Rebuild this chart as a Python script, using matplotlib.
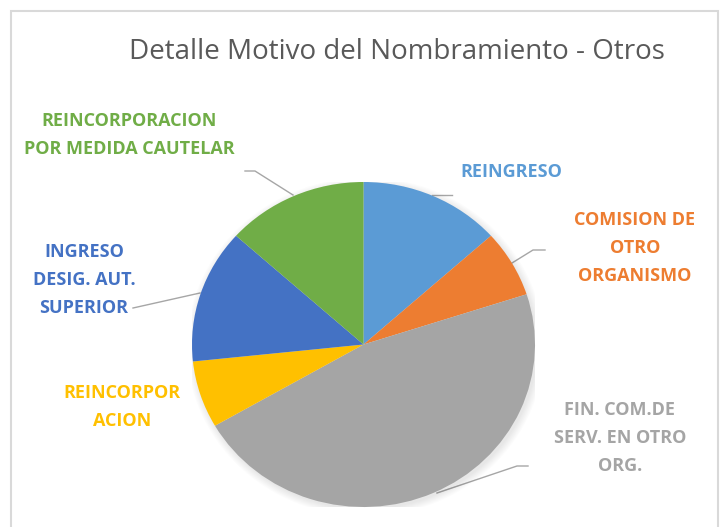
import matplotlib.pyplot as plt
from matplotlib.patches import Rectangle, Ellipse

# ============================================================
# DATA
# ============================================================

categories = [
    "REINGRESO",
    "COMISION DE\nOTRO\nORGANISMO",
    "FIN. COM.DE\nSERV. EN OTRO\nORG.",
    "REINCORPOR\nACION",
    "INGRESO\nDESIG. AUT.\nSUPERIOR",
    "REINCORPORACION\nPOR MEDIDA CAUTELAR",
]
values = [2, 1, 7, 1, 2, 2]
colors = ["#5B9BD5", "#ED7D31", "#A5A5A5", "#FFC000", "#4472C4", "#70AD47"]

title = "Detalle Motivo del Nombramiento - Otros"

# label anchor (pixel coords, origin top-left) and leader line points
label_pos = [(511, 172), (635, 248), (620, 438), (122, 407), (84, 280), (129, 135)]
leaders = [
    [(432, 195), (452, 195)],
    [(512, 263), (533, 250), (545, 250)],
    [(437, 493), (517, 466), (528, 466)],
    None,
    [(200, 293), (133, 308)],
    [(293, 195), (255, 171), (245, 171)],
]

# ============================================================
# FIGURE
# ============================================================

W, H = 720, 527
fig = plt.figure(figsize=(W / 100, H / 100), dpi=100)
ax = fig.add_axes([0, 0, 1, 1])
ax.set_xlim(0, W)
ax.set_ylim(0, H)
ax.axis("off")

# chart frame
ax.add_patch(Rectangle((11, -20), 707, H - 11 + 20, fill=False,
                       edgecolor="#D9D9D9", linewidth=1.5))

# pie in its own axes (slightly wider than tall, like the source)
cx, cy, rx, ry = 363.5, 344.5, 171.5, 162.5
pax = fig.add_axes([(cx - rx) / W, (H - cy - ry) / H, 2 * rx / W, 2 * ry / H])
for k in range(8):
    pax.add_patch(Ellipse((0.012, -0.015), 2.0 + 0.012 * k, 2.0 + 0.012 * k,
                          color="black", alpha=0.012, linewidth=0, zorder=0))
pax.pie(values, colors=colors, startangle=90, counterclock=False,
        radius=1, wedgeprops=dict(linewidth=0))
pax.set_aspect("auto")
pax.set_xlim(-1, 1)
pax.set_ylim(-1, 1)
pax.axis("off")

ax.text(397, H - 52, title, ha="center", va="center",
        fontsize=20, color="#595959", family="Open Sans")

for lab, (x, y), c in zip(categories, label_pos, colors):
    ax.text(x, H - y, lab, ha="center", va="center", fontsize=13,
            fontweight="bold", color=c, family="Open Sans",
            linespacing=1.7)

for pts in leaders:
    if pts is None:
        continue
    xs = [p[0] for p in pts]
    ys = [H - p[1] for p in pts]
    ax.plot(xs, ys, color="#A6A6A6", linewidth=1)

fig.savefig("out.png", dpi=100)
